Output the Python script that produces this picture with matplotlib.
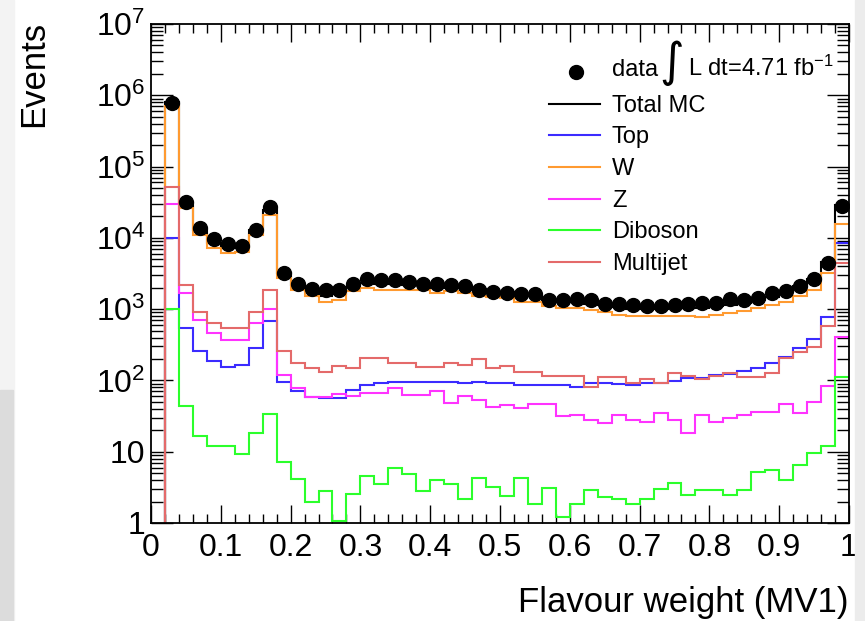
import numpy as np
import matplotlib
matplotlib.use('Agg')
import matplotlib.pyplot as plt
from matplotlib.ticker import FixedLocator, NullFormatter, FixedFormatter
from matplotlib.lines import Line2D
from matplotlib.patches import Rectangle

plt.rcParams['font.family'] = ['Liberation Sans', 'DejaVu Sans']
plt.rcParams['mathtext.fontset'] = 'custom'
plt.rcParams['mathtext.rm'] = 'Liberation Sans'
plt.rcParams['mathtext.it'] = 'Liberation Sans:italic'
plt.rcParams['mathtext.bf'] = 'Liberation Sans:bold'

# ---------------- data (50 bins of 0.02 in MV1) ----------------
bin_edges = np.linspace(0.0, 1.0, 51)

data = [np.nan, 7.9e5, 3.2e4, 1.38e4, 9.5e3, 8.1e3, 7.8e3, 1.3e4, 2.7e4, 3.2e3,
        2.28e3, 1.92e3, 1.83e3, 1.87e3, 2.28e3, 2.68e3, 2.53e3, 2.53e3, 2.4e3, 2.28e3,
        2.28e3, 2.2e3, 2.13e3, 1.83e3, 1.74e3, 1.68e3, 1.65e3, 1.62e3, 1.36e3, 1.36e3,
        1.39e3, 1.36e3, 1.19e3, 1.19e3, 1.15e3, 1.12e3, 1.12e3, 1.15e3, 1.19e3, 1.22e3,
        1.22e3, 1.38e3, 1.36e3, 1.43e3, 1.68e3, 1.8e3, 2.13e3, 2.64e3, 4.45e3, 2.8e4]

top = [0, 9.9e3, 540, 260, 188, 156, 165, 284, 671, 96,
       72, 59, 57, 57, 73, 86, 93, 96, 96, 96,
       96, 96, 91, 96, 91, 91, 86, 86, 86, 86,
       82, 91, 91, 89, 86, 91, 93, 99, 107, 107,
       119, 122, 136, 148, 177, 216, 284, 380, 764, 8.5e3]

wjets = [0, 7.1e5, 2.6e4, 1.1e4, 7.1e3, 6.1e3, 6.4e3, 1.1e4, 2.1e4, 2.7e3,
         1.83e3, 1.54e3, 1.28e3, 1.36e3, 1.77e3, 1.98e3, 1.87e3, 1.87e3, 1.87e3, 1.83e3,
         1.68e3, 1.77e3, 1.68e3, 1.54e3, 1.48e3, 1.43e3, 1.28e3, 1.28e3, 1.1e3, 1.03e3,
         1.03e3, 980, 900, 830, 790, 790, 790, 790, 800, 775,
         830, 880, 930, 1.03e3, 1.15e3, 1.28e3, 1.55e3, 1.87e3, 3.2e3, 1.54e4]

zjets = [0, 3.0e4, 1.68e3, 710, 461, 372, 372, 637, 1.02e3, 119,
         79, 58, 59, 65, 61, 66, 66, 78, 63, 63,
         70, 48, 61, 53, 43, 45, 41, 46, 46, 32,
         33, 28, 25.5, 33, 28, 26, 34.5, 28, 18.4, 33,
         26, 30, 33, 36, 36, 46, 34.5, 50, 84, 413]

diboson = [0, 1.02e3, 43.8, 16.7, 12, 12, 9.25, 18.4, 33.5, 7.2,
           4.16, 1.95, 2.84, 1.05, 2.54, 4.5, 3.5, 5.96, 4.9, 2.84,
           4.06, 3.5, 2.15, 4.3, 3.16, 2.4, 4.3, 1.83, 3.1, 1.2,
           1.83, 2.9, 2.3, 2.2, 1.85, 2.2, 3.0, 3.6, 2.45, 2.9,
           2.9, 2.45, 2.9, 5.25, 5.55, 4.0, 6.5, 9.7, 12, 113]

multijet = [0, 5.2e4, 2.2e3, 910, 637, 542, 542, 910, 1.83e3, 258,
            175, 148, 133, 160, 148, 205, 205, 175, 175, 156,
            156, 175, 165, 197, 150, 158, 132, 133, 115, 116,
            116, 80, 110, 110, 91, 104, 91, 126, 116, 104,
            116, 126, 110, 110, 129, 205, 254, 299, 571, 4.45e3]

total_mc = (np.array(top) + np.array(wjets) + np.array(zjets)
            + np.array(diboson) + np.array(multijet))

x_ticks = [0.0, 0.1, 0.2, 0.3, 0.4, 0.5, 0.6, 0.7, 0.8, 0.9, 1.0]
x_tick_labels = ['0', '0.1', '0.2', '0.3', '0.4', '0.5', '0.6', '0.7', '0.8', '0.9', '1']
y_ticks = [1, 10, 1e2, 1e3, 1e4, 1e5, 1e6, 1e7]
y_tick_labels = ['1', '10', r'$\mathregular{10^{2}}$', r'$\mathregular{10^{3}}$',
                 r'$\mathregular{10^{4}}$', r'$\mathregular{10^{5}}$',
                 r'$\mathregular{10^{6}}$', r'$\mathregular{10^{7}}$']

series = [('Total MC', total_mc, '#000000'),
          ('Top', top, '#3b2bff'),
          ('W', wjets, '#ff9a30'),
          ('Z', zjets, '#ff33ff'),
          ('Diboson', diboson, '#2bff2b'),
          ('Multijet', multijet, '#e46a6a')]

# ---------------- figure ----------------
W, H = 865, 621
fig = plt.figure(figsize=(W / 100, H / 100), dpi=100)
fig.patch.set_facecolor('white')

def fx(x):
    return x / W

def fy(y):
    return 1 - y / H

# faint slide background at the edges
fig.patches.append(Rectangle((fx(855), 0), fx(10), 1, transform=fig.transFigure,
                             color='#ececec', zorder=0))
fig.patches.append(Rectangle((0, 0), fx(14), 1, transform=fig.transFigure,
                             color='#f3f3f3', zorder=0))
fig.patches.append(Rectangle((0, 0), fx(13), fy(390), transform=fig.transFigure,
                             color='#dcdcdc', zorder=0))

ax = fig.add_axes([fx(151), fy(523), fx(849 - 151), (523 - 24) / H])
ax.set_yscale('log', nonpositive='clip')

for name, vals, col in series:
    ax.stairs(vals, bin_edges, baseline=None, color=col, lw=1.5, zorder=2)

centers = 0.5 * (bin_edges[:-1] + bin_edges[1:])
ax.errorbar(centers, data, xerr=0.5 * np.diff(bin_edges), fmt='o', color='black',
            ms=10, elinewidth=1.0, capsize=0, zorder=4)

ax.set_xlim(0, 1)
ax.set_ylim(1, 1e7)

ax.xaxis.set_major_locator(FixedLocator(x_ticks))
ax.xaxis.set_major_formatter(FixedFormatter(x_tick_labels))
ax.xaxis.set_minor_locator(FixedLocator(np.arange(0, 1.0001, 0.02)))
ax.yaxis.set_major_locator(FixedLocator(y_ticks))
ax.yaxis.set_major_formatter(FixedFormatter(y_tick_labels))
minor_y = [m * 10 ** e for e in range(0, 7) for m in range(2, 10)]
ax.yaxis.set_minor_locator(FixedLocator(minor_y))
ax.yaxis.set_minor_formatter(NullFormatter())

ax.tick_params(axis='both', which='both', direction='in', top=True, right=True,
               width=1.0, color='black')
ax.tick_params(axis='x', which='major', length=13, pad=7, labelsize=23)
ax.tick_params(axis='x', which='minor', length=6.5)
ax.tick_params(axis='y', which='major', length=16, pad=4, labelsize=23)
ax.tick_params(axis='y', which='minor', length=8.5)
for sp in ax.spines.values():
    sp.set_linewidth(1.3)

# axis titles
fig.text(fx(849), fy(612), 'Flavour weight (MV1)', ha='right', va='baseline', fontsize=25)
fig.text(fx(34), fy(21), 'Events', rotation=90, ha='center', va='top', fontsize=25)

# legend (drawn manually, ROOT style)
leg_fs = 17
fig.lines.append(Line2D([fx(576)], [fy(72)], marker='o', ms=10, color='black',
                        transform=fig.transFigure))
fig.text(fx(612), fy(76), 'data', ha='left', va='baseline', fontsize=leg_fs)
fig.text(fx(672), fy(63), '\u222b', ha='center', va='center', fontsize=34,
         family=['DejaVu Sans'])
fig.text(fx(688), fy(76), r'L dt=4.71 fb$^{\mathregular{-1}}$', ha='left',
         va='baseline', fontsize=leg_fs)
leg_y = [104, 135, 167, 199, 230, 262]
for (name, vals, col), yy in zip(series, leg_y):
    fig.lines.append(Line2D([fx(549), fx(600)], [fy(yy), fy(yy)], color=col, lw=1.5,
                            transform=fig.transFigure))
    fig.text(fx(612), fy(yy + 2), name, ha='left', va='center', fontsize=leg_fs)

fig.savefig('out.png', dpi=100)
